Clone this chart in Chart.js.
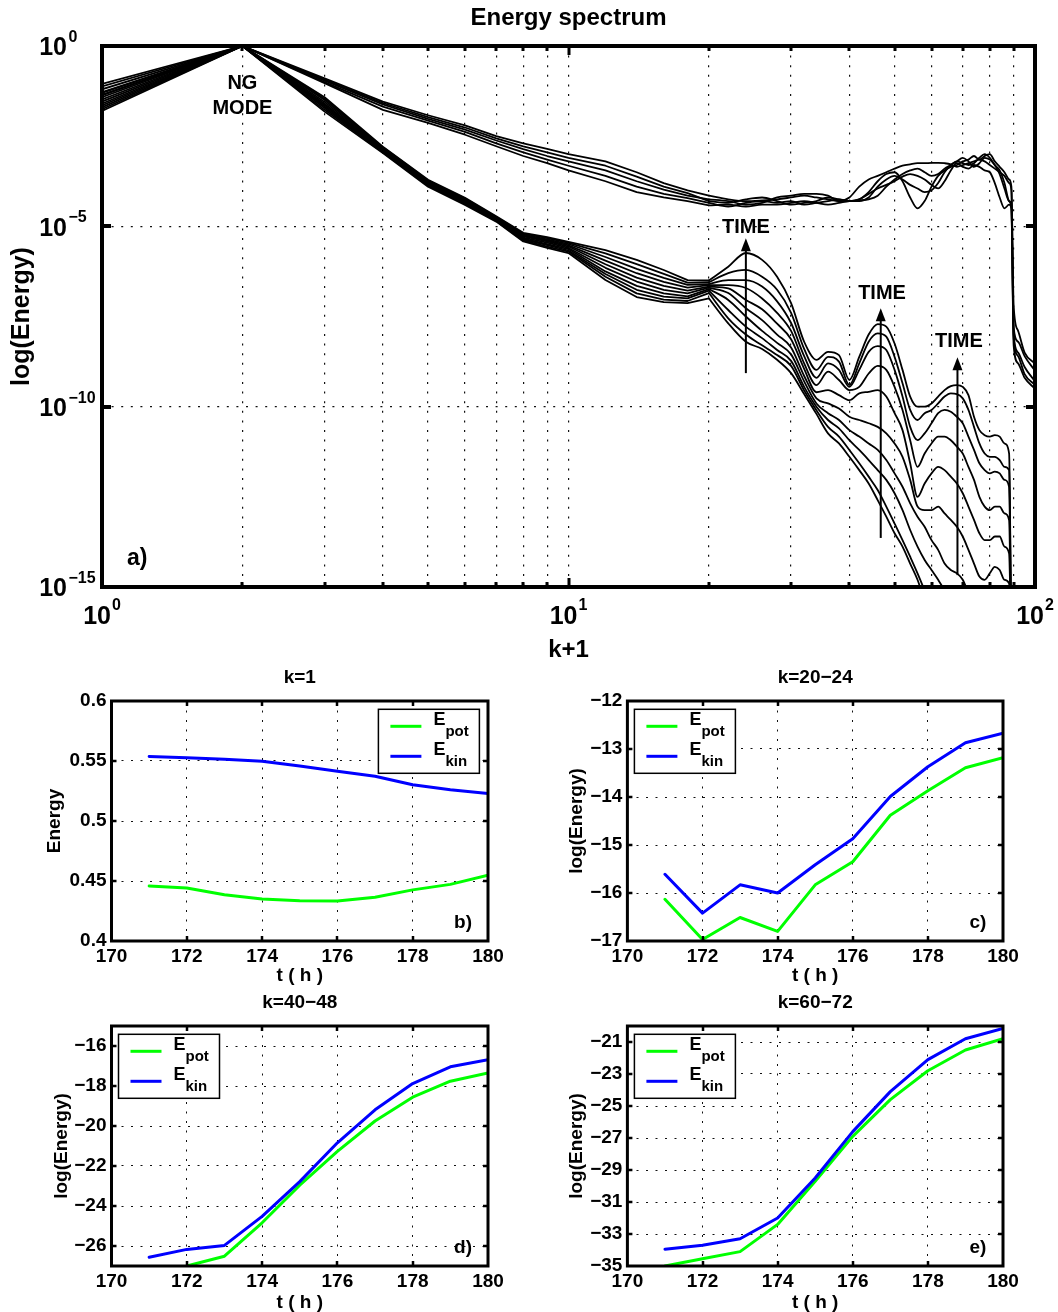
<!DOCTYPE html>
<html><head><meta charset="utf-8">
<script src="https://cdn.jsdelivr.net/npm/chart.js@4.4.1/dist/chart.umd.min.js"></script>
<style>
html,body{margin:0;padding:0;background:#fff;}
body{width:1058px;height:1312px;position:relative;overflow:hidden;}
canvas{position:absolute;}
</style></head><body>
<canvas id="cTop" width="1058" height="680" style="left:0;top:0"></canvas>
<canvas id="cB" width="529" height="330" style="left:0;top:660px"></canvas>
<canvas id="cC" width="529" height="330" style="left:529px;top:660px"></canvas>
<canvas id="cD" width="529" height="330" style="left:0;top:985px"></canvas>
<canvas id="cE" width="529" height="330" style="left:529px;top:985px"></canvas>
<script>
// ---------- DATA: energy spectrum (log10 of energy) ----------
const XK = [1,2,3,4,5,6,7,8,9,10, 12,14,16,18,20, 22,24,26,28,30,32,34,36,38,40,
            42,44,46,48,50,52,54,56,58,60, 62,64,66,68,70,72,74,76,78,80, 82,84,86,88, 89,90,92,95,100];
const SPLIT_INDEX = 14; // x = 20: low-k part drawn straight, high-k part drawn smooth

// upper family
const U0 = [-1.05,0,-0.9,-1.54,-1.92,-2.2,-2.5,-2.7,-2.85,-3.0,
  -3.2,-3.5,-3.8,-4.0,-4.15,
  -4.25,-4.3,-4.28,-4.25,-4.2,-4.15,-4.2,-4.25,-4.3,-4.2,
  -3.9,-3.7,-3.6,-3.5,-3.4,-3.32,-3.28,-3.25,-3.25,-3.24,
  -3.24,-3.25,-3.28,-3.35,-3.3,-3.25,-3.2,-3.15,-3.2,-3.3,
  -3.4,-3.5,-3.6,-3.8,
  -4.0,-7.2,-7.9,-8.5,-8.8];
const U1 = [-1.12,0,-0.93,-1.58,-1.97,-2.26,-2.56,-2.78,-2.95,-3.1,
  -3.32,-3.62,-3.9,-4.08,-4.3,
  -4.35,-4.25,-4.2,-4.3,-4.4,-4.35,-4.3,-4.2,-4.25,-4.3,
  -4.25,-4.05,-3.75,-3.55,-3.5,-3.75,-4.2,-4.5,-4.3,-3.9,
  -3.6,-3.45,-3.35,-3.3,-3.2,-3.15,-3.05,-3.15,-3.05,-3.0,
  -3.2,-3.35,-3.5,-3.7,
  -3.9,-7.8,-8.2,-8.6,-9.0];
const U2 = [-1.2,0,-0.96,-1.62,-2.02,-2.32,-2.62,-2.86,-3.05,-3.2,
  -3.45,-3.75,-3.98,-4.15,-4.25,
  -4.3,-4.4,-4.35,-4.2,-4.15,-4.1,-4.1,-4.15,-4.3,-4.3,
  -4.3,-4.2,-3.9,-3.7,-3.6,-3.7,-3.85,-3.95,-4.05,-4.0,
  -3.8,-3.5,-3.3,-3.2,-3.1,-3.2,-3.35,-3.25,-3.1,-3.15,
  -3.3,-3.55,-3.95,-4.3,
  -4.4,-8.0,-8.5,-8.9,-9.3];
const U3 = [-1.28,0,-1.0,-1.68,-2.07,-2.38,-2.7,-2.95,-3.15,-3.32,
  -3.6,-3.9,-4.1,-4.22,-4.35,
  -4.45,-4.35,-4.3,-4.35,-4.3,-4.4,-4.35,-4.3,-4.25,-4.3,
  -4.25,-4.1,-3.95,-3.85,-3.75,-3.62,-3.55,-3.6,-3.7,-3.85,
  -3.95,-3.75,-3.45,-3.25,-3.35,-3.4,-3.3,-3.35,-3.45,-3.5,
  -3.8,-4.2,-4.5,-4.4,
  -4.5,-8.3,-8.8,-9.2,-9.5];
const U4 = [-1.36,0,-1.03,-1.77,-2.13,-2.46,-2.78,-3.05,-3.25,-3.45,
  -3.75,-4.05,-4.2,-4.3,-4.42,
  -4.4,-4.45,-4.4,-4.4,-4.35,-4.3,-4.35,-4.4,-4.35,-4.3,
  -4.28,-4.25,-4.15,-3.9,-3.7,-3.55,-3.45,-3.4,-3.5,-3.6,
  -3.55,-3.4,-3.3,-3.2,-3.25,-3.3,-3.25,-3.1,-3.0,-3.1,
  -3.3,-3.45,-3.8,-4.3,
  -4.5,-8.1,-8.6,-9.1,-9.4];

// lower family (L9 = latest time, highest peaks)
const L9 = [-1.3,0,-1.42,-2.79,-3.71,-4.21,-4.72,-5.18,-5.3,-5.43,
  -5.66,-5.93,-6.21,-6.49,-6.5,
  -6.12,-5.74,-5.93,-6.4,-7.13,-8.2,-8.7,-8.48,-8.57,-9.26,
  -8.62,-8.0,-7.71,-7.78,-8.25,-8.98,-9.72,-10.0,-10.0,-9.91,
  -9.72,-9.54,-9.43,-9.4,-9.45,-9.68,-10.28,-10.65,-10.79,-10.83,
  -10.79,-10.83,-11.02,-11.3,
  -17,null,null,null,null];
const L8 = [-1.36,0,-1.46,-2.81,-3.73,-4.23,-4.74,-5.2,-5.33,-5.46,
  -5.75,-6.05,-6.32,-6.56,-6.55,
  -6.3,-6.21,-6.4,-6.76,-7.4,-8.4,-8.98,-8.62,-8.75,-9.4,
  -8.8,-8.2,-7.97,-8.06,-8.62,-9.35,-10.09,-10.37,-10.18,-10.09,
  -9.91,-9.72,-9.63,-9.65,-9.77,-10.09,-10.56,-11.02,-11.3,-11.39,
  -11.39,-11.48,-11.67,-11.76,
  -17,null,null,null,null];
const L7 = [-1.42,0,-1.5,-2.83,-3.75,-4.25,-4.75,-5.23,-5.36,-5.49,
  -5.85,-6.18,-6.43,-6.62,-6.6,
  -6.49,-6.49,-6.67,-7.08,-7.68,-8.6,-9.2,-8.8,-8.98,-9.45,
  -8.98,-8.48,-8.32,-8.43,-8.98,-9.72,-10.56,-10.93,-10.74,-10.46,
  -10.18,-10.09,-10.14,-10.28,-10.46,-10.83,-11.2,-11.57,-11.76,-11.85,
  -11.8,-11.85,-12.03,-12.22,
  -17,null,null,null,null];
const L6 = [-1.48,0,-1.55,-2.85,-3.77,-4.27,-4.77,-5.26,-5.39,-5.53,
  -5.95,-6.3,-6.54,-6.7,-6.63,
  -6.63,-6.71,-7.0,-7.4,-7.9,-8.8,-9.4,-9.03,-9.26,-9.54,
  -9.45,-9.08,-8.87,-8.98,-9.45,-10.09,-10.93,-11.67,-11.3,-11.02,
  -10.83,-10.83,-10.93,-11.11,-11.3,-11.67,-12.03,-12.5,-12.77,-12.87,
  -12.77,-12.77,-12.96,-13.14,
  -17,null,null,null,null];
const L5 = [-1.54,0,-1.6,-2.87,-3.79,-4.3,-4.78,-5.28,-5.42,-5.56,
  -6.05,-6.42,-6.65,-6.78,-6.67,
  -6.72,-7.04,-7.3,-7.7,-8.13,-8.95,-9.6,-9.54,-9.68,-9.82,
  -9.63,-9.59,-9.54,-9.72,-10.18,-10.65,-11.57,-12.5,-12.13,-11.85,
  -11.67,-11.76,-11.94,-12.13,-12.4,-12.77,-13.14,-13.51,-13.7,-13.7,
  -13.6,-13.6,-13.88,-14.07,
  -17,null,null,null,null];
const L4 = [-1.6,0,-1.64,-2.89,-3.81,-4.32,-4.8,-5.31,-5.45,-5.6,
  -6.15,-6.53,-6.76,-6.86,-6.7,
  -6.85,-7.27,-7.6,-8.0,-8.36,-9.15,-9.77,-9.91,-10.05,-10.28,
  -10.37,-10.46,-10.56,-10.74,-11.02,-11.39,-12.03,-12.77,-12.87,-12.87,
  -12.77,-12.96,-13.14,-13.33,-13.6,-13.97,-14.35,-14.71,-14.8,-14.62,
  -14.44,-14.53,-14.8,-14.9,
  -17,null,null,null,null];
const L3 = [-1.65,0,-1.68,-2.91,-3.83,-4.34,-4.82,-5.34,-5.49,-5.63,
  -6.25,-6.65,-6.86,-6.94,-6.74,
  -7.04,-7.5,-7.9,-8.23,-8.55,-9.3,-9.91,-10.18,-10.37,-10.65,
  -10.83,-11.02,-11.2,-11.48,-11.85,-12.22,-12.68,-13.05,-13.33,-13.7,
  -13.97,-14.35,-14.53,-14.62,-14.8,-15.18,-15.6,-16.0,-16.3,-16.5,
  -16.6,-16.8,-17,null,
  null,null,null,null,null];
const L2 = [-1.7,0,-1.72,-2.93,-3.85,-4.36,-4.83,-5.36,-5.52,-5.67,
  -6.32,-6.76,-6.95,-7.0,-6.78,
  -7.32,-7.78,-8.1,-8.43,-8.73,-9.45,-10.0,-10.37,-10.6,-10.93,
  -11.2,-11.48,-11.76,-12.03,-12.4,-12.87,-13.42,-13.88,-14.25,-14.53,
  -14.8,-15.1,-15.5,-15.8,-16.2,-16.5,-17,null,null,null,
  null,null,null,null,
  null,null,null,null,null];
const L1 = [-1.75,0,-1.77,-2.95,-3.87,-4.38,-4.85,-5.39,-5.56,-5.7,
  -6.4,-6.86,-7.03,-7.07,-6.85,
  -7.55,-8.0,-8.3,-8.57,-8.87,-9.55,-10.1,-10.56,-10.83,-11.2,
  -11.57,-11.94,-12.31,-12.77,-13.24,-13.7,-14.16,-14.62,-15.1,-15.6,
  -16.0,-16.5,-17,null,null,null,null,null,null,null,
  null,null,null,null,
  null,null,null,null,null];
const L0 = [-1.8,0,-1.82,-2.97,-3.9,-4.41,-4.87,-5.42,-5.6,-5.74,
  -6.49,-6.96,-7.1,-7.13,-7.0,
  -7.69,-8.2,-8.4,-8.7,-9.07,-9.65,-10.2,-10.74,-11.02,-11.39,
  -11.76,-12.13,-12.59,-13.05,-13.51,-13.88,-14.35,-14.8,-15.4,-16.0,
  -16.5,-17,null,null,null,null,null,null,null,null,
  null,null,null,null,
  null,null,null,null,null];

const SPECTRA = [U0,U1,U2,U3,U4,L0,L1,L2,L3,L4,L5,L6,L7,L8,L9];

// axis ticks of the spectrum
const X_GRID = [1,2,3,4,5,6,7,8,9,10,20,30,40,50,60,70,80,90,100];
const X_MAJOR = [1,10,100];
const Y_TICKS = [1e-15,1e-10,1e-5,1];

// annotations (k+1, log10 energy)
const NOTE_TEXT = [
  {t:'NG', k:2, e:-1.05}, {t:'MODE', k:2, e:-1.72},
  {t:'TIME', k:24, e:-5.02}, {t:'TIME', k:47, e:-6.85}, {t:'TIME', k:68.7, e:-8.18}
];
const ARROWS = [{k:24, from:-9.07, to:-5.33}, {k:46.7, from:-13.64, to:-7.27}, {k:68.2, from:-14.67, to:-8.63}];
const PANEL_A = {t:'a)', k:1.19, e:-14.22};

// ---------- DATA: time series panels ----------
const T = [171,172,173,174,175,176,177,178,179,180];
const T_TICKS = [170,172,174,176,178,180];
const B_EPOT = [0.4458,0.4441,0.4385,0.435,0.4336,0.4333,0.4364,0.4426,0.4472,0.4548];
const B_EKIN = [0.5537,0.5528,0.5514,0.5497,0.5458,0.5415,0.5373,0.5302,0.526,0.5229];
const C_EPOT = [-16.13,-16.97,-16.51,-16.8,-15.83,-15.35,-14.38,-13.87,-13.39,-13.18];
const C_EKIN = [-15.61,-16.42,-15.83,-16.0,-15.41,-14.87,-13.99,-13.37,-12.87,-12.67];
const D_EPOT = [-29.5,-27.0,-26.51,-24.84,-22.96,-21.27,-19.75,-18.56,-17.76,-17.35];
const D_EKIN = [-26.56,-26.17,-25.97,-24.52,-22.78,-20.84,-19.19,-17.88,-17.04,-16.68];
const E_EPOT = [-35.0,-34.55,-34.1,-32.4,-29.7,-26.9,-24.6,-22.8,-21.5,-20.8];
const E_EKIN = [-33.95,-33.7,-33.3,-32.0,-29.5,-26.6,-24.1,-22.1,-20.8,-20.15];
const B_YTICKS = [0.4,0.45,0.5,0.55,0.6];
const C_YTICKS = [-17,-16,-15,-14,-13,-12];
const D_YTICKS = [-26,-24,-22,-20,-18,-16];
const E_YTICKS = [-35,-33,-31,-29,-27,-25,-23,-21];
const SERIES_NAMES = ['E_pot','E_kin'];
const SERIES_COLORS = ['#00ff00','#0000ff'];

// ---------- helpers ----------
const FAM = '"Liberation Sans", Arial, Helvetica, sans-serif';
const f = (size) => ({family: FAM, size: size, weight: 'bold'});
const minus = (v) => (v < 0 ? '\u2212' + Math.abs(v) : String(v));

function toPoints(exps, from, to) {
  const pts = [];
  for (let i = from; i <= to; i++) {
    if (exps[i] !== null) pts.push({x: XK[i], y: Math.pow(10, exps[i])});
  }
  return pts;
}

// ---------- spectrum decorations ----------
const spectrumDecor = {
  id: 'spectrumDecor',
  afterDraw(chart) {
    const {ctx, chartArea: a, scales: {x, y}} = chart;
    ctx.save();
    ctx.strokeStyle = '#000';
    ctx.fillStyle = '#000';
    ctx.lineWidth = 4;
    ctx.strokeRect(a.left, a.top, a.right - a.left, a.bottom - a.top);
    ctx.lineWidth = 3;
    X_GRID.forEach(v => {
      if (v <= 1 || v >= 100) return;
      const px = Math.round(x.getPixelForValue(v));
      const len = X_MAJOR.includes(v) ? 9 : 5;
      ctx.beginPath();
      ctx.moveTo(px, a.bottom); ctx.lineTo(px, a.bottom - len);
      ctx.moveTo(px, a.top); ctx.lineTo(px, a.top + len);
      ctx.stroke();
    });
    ctx.lineWidth = 4;
    Y_TICKS.forEach(v => {
      if (v <= 1e-15 || v >= 1) return;
      const py = Math.round(y.getPixelForValue(v));
      ctx.beginPath();
      ctx.moveTo(a.left, py); ctx.lineTo(a.left + 9, py);
      ctx.moveTo(a.right, py); ctx.lineTo(a.right - 9, py);
      ctx.stroke();
    });
    ctx.textBaseline = 'middle';
    ctx.textAlign = 'left';
    X_MAJOR.forEach(v => {
      const px = x.getPixelForValue(v);
      const ex = minus(Math.round(Math.log10(v)));
      ctx.font = 'bold 25px ' + FAM;
      const w1 = ctx.measureText('10').width;
      ctx.font = 'bold 16px ' + FAM;
      const w2 = ctx.measureText(ex).width;
      const x0 = px - (w1 + w2 + 1) / 2;
      ctx.font = 'bold 25px ' + FAM;
      ctx.fillText('10', x0, a.bottom + 30);
      ctx.font = 'bold 16px ' + FAM;
      ctx.fillText(ex, x0 + w1 + 1, a.bottom + 19);
    });
    Y_TICKS.forEach(v => {
      const py = y.getPixelForValue(v);
      const ex = minus(Math.round(Math.log10(v)));
      ctx.font = 'bold 25px ' + FAM;
      ctx.textAlign = 'right';
      ctx.fillText('10', a.left - 35, py + 2.5);
      ctx.font = 'bold 16px ' + FAM;
      ctx.textAlign = 'left';
      ctx.fillText(ex, a.left - 33.5, py - 8.5);
    });
    ctx.textAlign = 'center';
    ctx.font = 'bold 20px ' + FAM;
    NOTE_TEXT.forEach(n => {
      ctx.fillText(n.t, x.getPixelForValue(n.k), y.getPixelForValue(Math.pow(10, n.e)));
    });
    ctx.font = 'bold 23px ' + FAM;
    ctx.fillText(PANEL_A.t, x.getPixelForValue(PANEL_A.k), y.getPixelForValue(Math.pow(10, PANEL_A.e)));
    ARROWS.forEach(ar => {
      const px = x.getPixelForValue(ar.k);
      const y0 = y.getPixelForValue(Math.pow(10, ar.from));
      const y1 = y.getPixelForValue(Math.pow(10, ar.to));
      ctx.lineWidth = 2;
      ctx.beginPath(); ctx.moveTo(px, y0); ctx.lineTo(px, y1 + 12); ctx.stroke();
      ctx.beginPath(); ctx.moveTo(px, y1); ctx.lineTo(px - 5, y1 + 13); ctx.lineTo(px + 5, y1 + 13); ctx.closePath(); ctx.fill();
    });
    ctx.restore();
  }
};

const spectrumDatasets = [];
SPECTRA.forEach((s, i) => {
  const common = {showLine: true, borderColor: '#000', backgroundColor: '#000', borderWidth: 1.8,
                  pointRadius: 0, borderJoinStyle: 'round', borderCapStyle: 'round'};
  spectrumDatasets.push(Object.assign({label: 'spectrum ' + (i + 1) + ' (low k)', data: toPoints(s, 0, SPLIT_INDEX), tension: 0}, common));
  spectrumDatasets.push(Object.assign({label: 'spectrum ' + (i + 1) + ' (high k)', data: toPoints(s, SPLIT_INDEX, XK.length - 1),
                                       cubicInterpolationMode: 'monotone'}, common));
});

new Chart(document.getElementById('cTop'), {
  type: 'scatter',
  data: {datasets: spectrumDatasets},
  options: {
    responsive: false, animation: false, devicePixelRatio: 1,
    layout: {padding: {left: 0, right: 23, top: 0, bottom: 0}},
    plugins: {
      legend: {display: false}, tooltip: {enabled: false},
      title: {display: true, text: 'Energy spectrum', fullSize: false, color: '#000', font: f(24), padding: {top: 4.2, bottom: 13}}
    },
    scales: {
      x: {
        type: 'logarithmic', min: 1, max: 100,
        afterBuildTicks: s => { s.ticks = X_GRID.map(v => ({value: v})); },
        afterFit: s => { s.height = 93; },
        ticks: {display: false},
        grid: {color: '#111', lineWidth: 1.2, drawTicks: false},
        border: {display: false, dash: [2, 7.6]},
        title: {display: true, text: 'k+1', color: '#000', font: f(24), padding: {top: 0, bottom: 15.6}}
      },
      y: {
        type: 'logarithmic', min: 1e-15, max: 1,
        afterBuildTicks: s => { s.ticks = Y_TICKS.map(v => ({value: v})); },
        afterFit: s => { s.width = 102; },
        ticks: {display: false},
        grid: {color: '#111', lineWidth: 1.2, drawTicks: false},
        border: {display: false, dash: [2, 7.6]},
        title: {display: true, text: 'log(Energy)', color: '#000', font: f(25), padding: {top: 7, bottom: 0}}
      }
    }
  },
  plugins: [spectrumDecor]
});

// ---------- panel decorations ----------
const panelDecor = {
  id: 'panelDecor',
  afterDraw(chart, args, o) {
    const {ctx, chartArea: a, scales: {x, y}} = chart;
    ctx.save();
    ctx.strokeStyle = '#000';
    ctx.fillStyle = '#000';
    ctx.lineWidth = 3;
    ctx.strokeRect(a.left, a.top, a.right - a.left, a.bottom - a.top);
    ctx.lineWidth = 2.5;
    x.ticks.forEach(t => {
      if (t.value <= x.min || t.value >= x.max) return;
      const px = Math.round(x.getPixelForValue(t.value));
      ctx.beginPath();
      ctx.moveTo(px, a.bottom); ctx.lineTo(px, a.bottom - 5);
      ctx.moveTo(px, a.top); ctx.lineTo(px, a.top + 5);
      ctx.stroke();
    });
    y.ticks.forEach(t => {
      if (t.value <= y.min || t.value >= y.max) return;
      const py = Math.round(y.getPixelForValue(t.value));
      ctx.beginPath();
      ctx.moveTo(a.left, py); ctx.lineTo(a.left + 5, py);
      ctx.moveTo(a.right, py); ctx.lineTo(a.right - 5, py);
      ctx.stroke();
    });
    const bw = 101, bh = 64;
    const bx = o.legendSide === 'right' ? a.right - 8.6 - bw : a.left + 7;
    const by = a.top + 8.3;
    ctx.fillStyle = '#fff';
    ctx.fillRect(bx, by, bw, bh);
    ctx.lineWidth = 1.5;
    ctx.strokeRect(bx, by, bw, bh);
    chart.data.datasets.forEach((ds, i) => {
      const ly = by + 17 + i * 30;
      ctx.strokeStyle = ds.borderColor;
      ctx.lineWidth = 3;
      ctx.beginPath(); ctx.moveTo(bx + 12, ly); ctx.lineTo(bx + 43, ly); ctx.stroke();
      const parts = ds.label.split('_');
      ctx.fillStyle = '#000';
      ctx.textBaseline = 'middle';
      ctx.textAlign = 'left';
      ctx.font = 'bold 18px ' + FAM;
      ctx.fillText(parts[0], bx + 55, ly - 6);
      const w = ctx.measureText(parts[0]).width;
      ctx.font = 'bold 15px ' + FAM;
      ctx.fillText(parts[1], bx + 55 + w, ly + 5.5);
    });
    ctx.fillStyle = '#000';
    ctx.font = 'bold 19px ' + FAM;
    ctx.textAlign = 'center';
    ctx.textBaseline = 'middle';
    ctx.fillText(o.label, a.right - 25, a.bottom - 18);
    ctx.restore();
  }
};

function panel(id, c) {
  const grid = {color: '#111', lineWidth: 1, drawTicks: false};
  const border = {display: false, dash: [2, 7.5]};
  return new Chart(document.getElementById(id), {
    type: 'line',
    data: {
      datasets: [
        {label: SERIES_NAMES[0], data: T.map((t, i) => ({x: t, y: c.pot[i]})), borderColor: SERIES_COLORS[0], backgroundColor: SERIES_COLORS[0], borderWidth: 3, order: 1},
        {label: SERIES_NAMES[1], data: T.map((t, i) => ({x: t, y: c.kin[i]})), borderColor: SERIES_COLORS[1], backgroundColor: SERIES_COLORS[1], borderWidth: 3, order: 0}
      ]
    },
    options: {
      responsive: false, animation: false, devicePixelRatio: 1,
      layout: {padding: {left: 0, right: c.padRight, top: 0, bottom: 0}},
      elements: {point: {radius: 0}, line: {tension: 0, borderJoinStyle: 'round', borderCapStyle: 'round'}},
      plugins: {
        legend: {display: false}, tooltip: {enabled: false},
        title: {display: true, text: c.title, fullSize: false, color: '#000', font: f(19), padding: {top: 6.6, bottom: 11.6}},
        panelDecor: {label: c.label, legendSide: c.legendSide}
      },
      scales: {
        x: {
          type: 'linear', min: 170, max: 180,
          afterBuildTicks: s => { s.ticks = T_TICKS.map(v => ({value: v})); },
          afterFit: s => { s.height = 49; },
          ticks: {color: '#000', font: f(19), padding: 4.6, maxRotation: 0, autoSkip: false},
          grid: grid, border: border,
          title: {display: true, text: 't ( h )', color: '#000', font: f(19), padding: {top: 0, bottom: c.xTitlePad}}
        },
        y: {
          type: 'linear', min: c.min, max: c.max,
          afterBuildTicks: s => { s.ticks = c.yticks.map(v => ({value: v})); },
          afterFit: s => { s.width = c.yW; },
          ticks: {color: '#000', font: f(19), padding: 5, callback: v => minus(v)},
          grid: grid, border: border,
          title: {display: true, text: c.ytitle, color: '#000', font: f(19), padding: {top: c.yTitlePad, bottom: 0}}
        }
      }
    },
    plugins: [panelDecor]
  });
}

panel('cB', {pot: B_EPOT, kin: B_EKIN, min: 0.4, max: 0.6, yticks: B_YTICKS, title: 'k=1', label: 'b)', legendSide: 'right',
  ytitle: 'Energy', yW: 111.5, padRight: 41, yTitlePad: 43.6, xTitlePad: 2.6});
panel('cC', {pot: C_EPOT, kin: C_EKIN, min: -17, max: -12, yticks: C_YTICKS, title: 'k=20\u221224', label: 'c)', legendSide: 'left',
  ytitle: 'log(Energy)', yW: 98.4, padRight: 55, yTitlePad: 36.1, xTitlePad: 2.6});
panel('cD', {pot: D_EPOT, kin: D_EKIN, min: -27, max: -15, yticks: D_YTICKS, title: 'k=40\u221248', label: 'd)', legendSide: 'left',
  ytitle: 'log(Energy)', yW: 111.5, padRight: 41, yTitlePad: 50.3, xTitlePad: 0.6});
panel('cE', {pot: E_EPOT, kin: E_EKIN, min: -35, max: -20, yticks: E_YTICKS, title: 'k=60\u221272', label: 'e)', legendSide: 'left',
  ytitle: 'log(Energy)', yW: 98.4, padRight: 55, yTitlePad: 36.1, xTitlePad: 0.6});
</script>
</body></html>
